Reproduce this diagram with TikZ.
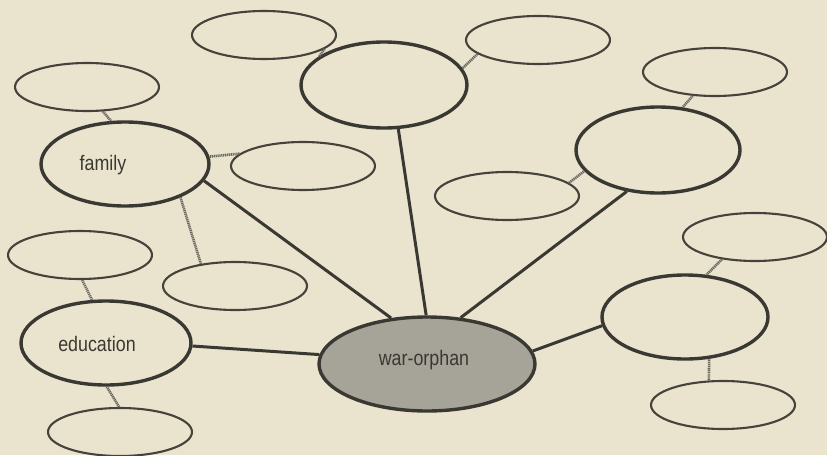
\documentclass[tikz,border=0pt]{standalone}
\usepackage{fontspec}
\newfontfamily\lblfont{Liberation Sans}[FakeStretch=0.85]
\usetikzlibrary{shapes.geometric}
\definecolor{paper}{RGB}{234,228,206}
\definecolor{ink}{RGB}{58,56,50}
\definecolor{thinink}{RGB}{68,66,58}
\definecolor{hub}{RGB}{166,163,153}
\definecolor{rope}{RGB}{105,103,95}
\tikzset{
  bigell/.style={ellipse, draw=ink, line width=3.4pt, inner sep=0pt, minimum width=#1},
  smallell/.style={ellipse, draw=thinink, line width=2.1pt, inner sep=0pt, minimum width=144pt, minimum height=48pt},
  mainlink/.style={draw=ink, line width=3pt},
  sublink/.style={draw=rope, line width=2.6pt, dash pattern=on 1.2pt off 0.7pt},
  lbl/.style={font=\lblfont\fontsize{21}{24}\selectfont, text=ink, inner sep=0pt}
}
\begin{document}
\begin{tikzpicture}[x=1pt,y=-1pt]
\fill[paper] (0,0) rectangle (827,455);
\useasboundingbox (0,0) rectangle (827,455);
% main nodes
\node[bigell=216pt, minimum height=94pt, fill=hub] (cen) at (427,364) {};
\node[bigell=168pt, minimum height=84pt] (fam) at (125,164) {};
\node[bigell=166pt, minimum height=86pt] (top) at (384,85) {};
\node[bigell=164pt, minimum height=86pt] (ru) at (658,150) {};
\node[bigell=166pt, minimum height=84pt] (rl) at (685,317) {};
\node[bigell=170pt, minimum height=84pt] (edu) at (106,343) {};
% labels
\node[lbl] (tcen) at (424,360) {war-orphan};
\node[lbl] (tfam) at (103,165) {family};
\node[lbl] (tedu) at (97,344) {education};
% small nodes
\node[smallell] (s1) at (87,87) {};
\node[smallell] (s2) at (264,35) {};
\node[smallell] (s3) at (538,40) {};
\node[smallell] (s4) at (715,72) {};
\node[smallell] (s5) at (303,166) {};
\node[smallell] (s6) at (235,286) {};
\node[smallell] (s7) at (507,196) {};
\node[smallell] (s8) at (755,237) {};
\node[smallell] (s9) at (723,405) {};
\node[smallell] (s10) at (80,255) {};
\node[smallell] (s11) at (120,432) {};
% main links
\draw[mainlink] (edu.-2) -- (cen.175);
\draw[mainlink] (fam.-12.5) -- (cen.128);
\draw[mainlink] (top.-72) -- (cen.91);
\draw[mainlink] (ru.-127) -- (cen.54);
\draw[mainlink] (rl.186) -- (cen.7);
% sub links
\draw[sublink] (s1.-57) -- (fam.108);
\draw[sublink] (s2.-13) -- (top.156);
\draw[sublink] (s3.193) -- (top.12);
\draw[sublink] (s4.227) -- (ru.60);
\draw[sublink] (s5.169) -- (fam.5.4);
\draw[sublink] (s6.147) -- (fam.-31);
\draw[sublink] (s7.12) -- (ru.196);
\draw[sublink] (s8.214) -- (rl.63);
\draw[sublink] (s9.120) -- (rl.-60);
\draw[sublink] (s10.-85) -- (edu.108);
\draw[sublink] (s11.92) -- (edu.-89);
\end{tikzpicture}
\end{document}
